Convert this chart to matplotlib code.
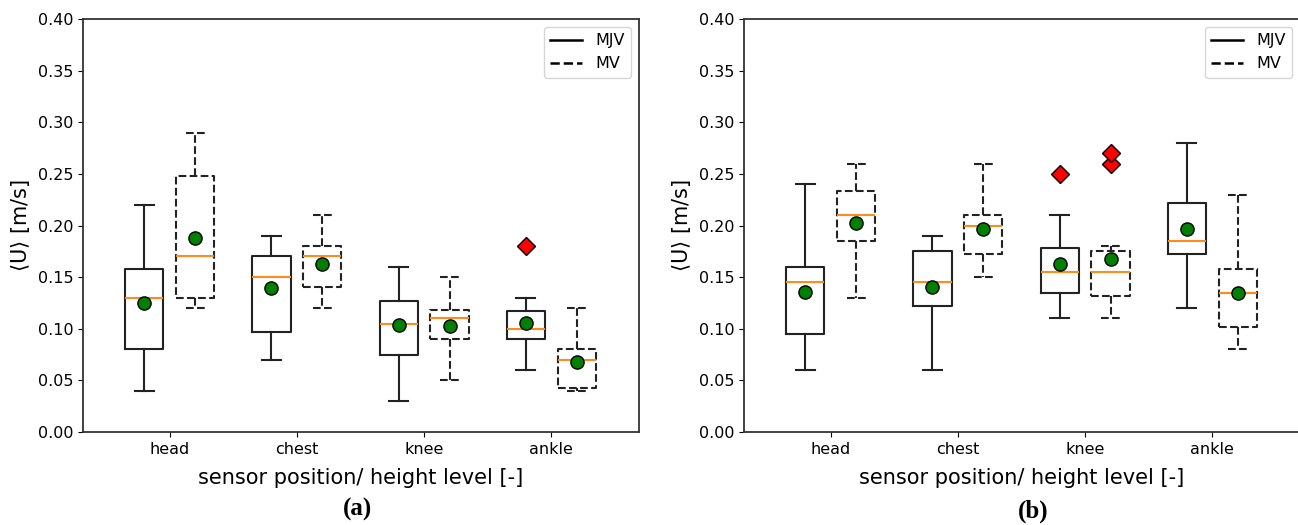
import matplotlib
matplotlib.use('Agg')
import matplotlib.pyplot as plt
from matplotlib.lines import Line2D

positions = ['head', 'chest', 'knee', 'ankle']

# (a) -- whisker low, q1, median, q3, whisker high, mean, outliers
a_mjv_lo = [0.04, 0.07, 0.03, 0.06]
a_mjv_q1 = [0.080, 0.097, 0.075, 0.090]
a_mjv_med = [0.130, 0.150, 0.105, 0.100]
a_mjv_q3 = [0.158, 0.170, 0.127, 0.117]
a_mjv_hi = [0.22, 0.19, 0.16, 0.13]
a_mjv_mean = [0.125, 0.139, 0.104, 0.106]
a_mjv_out = [[], [], [], [0.18]]

a_mv_lo = [0.12, 0.12, 0.05, 0.04]
a_mv_q1 = [0.130, 0.140, 0.090, 0.043]
a_mv_med = [0.170, 0.170, 0.110, 0.070]
a_mv_q3 = [0.248, 0.180, 0.118, 0.080]
a_mv_hi = [0.29, 0.21, 0.15, 0.12]
a_mv_mean = [0.188, 0.163, 0.103, 0.068]
a_mv_out = [[], [], [], []]

# (b)
b_mjv_lo = [0.06, 0.06, 0.11, 0.12]
b_mjv_q1 = [0.095, 0.122, 0.135, 0.172]
b_mjv_med = [0.145, 0.145, 0.155, 0.185]
b_mjv_q3 = [0.160, 0.175, 0.178, 0.222]
b_mjv_hi = [0.24, 0.19, 0.21, 0.28]
b_mjv_mean = [0.136, 0.140, 0.163, 0.197]
b_mjv_out = [[], [], [0.25], []]

b_mv_lo = [0.13, 0.15, 0.11, 0.08]
b_mv_q1 = [0.185, 0.172, 0.132, 0.102]
b_mv_med = [0.210, 0.200, 0.155, 0.135]
b_mv_q3 = [0.233, 0.210, 0.175, 0.158]
b_mv_hi = [0.26, 0.26, 0.18, 0.23]
b_mv_mean = [0.202, 0.197, 0.168, 0.135]
b_mv_out = [[], [], [0.26, 0.27], []]


def make_stats(lo, q1, med, q3, hi, mean, out):
    stats = []
    for i in range(len(lo)):
        stats.append({'whislo': lo[i], 'q1': q1[i], 'med': med[i], 'q3': q3[i],
                      'whishi': hi[i], 'mean': mean[i], 'fliers': out[i]})
    return stats


def draw_group(ax, stats, xs, ls):
    line = dict(color='#222222', linewidth=1.5, linestyle=ls)
    ax.bxp(stats, positions=xs, widths=0.3, showmeans=True,
           boxprops=line, whiskerprops=line, capprops=line,
           medianprops=dict(color='#ff8c1a', linewidth=1.5),
           meanprops=dict(marker='o', markerfacecolor='green',
                          markeredgecolor='black', markersize=9.5),
           flierprops=dict(marker='D', markerfacecolor='red',
                           markeredgecolor='black', markersize=9),
           manage_ticks=False)


def draw_panel(ax, mjv, mv):
    x = [1, 2, 3, 4]
    draw_group(ax, mjv, [p - 0.2 for p in x], '-')
    draw_group(ax, mv, [p + 0.2 for p in x], '--')
    ax.set_xticks(x)
    ax.set_xticklabels(positions, fontsize=11.5)
    ax.set_xlim(0.319, 4.689)
    ax.set_ylim(0, 0.4)
    ax.set_yticks([0.0, 0.05, 0.10, 0.15, 0.20, 0.25, 0.30, 0.35, 0.40])
    ax.set_yticklabels(['%.2f' % v for v in ax.get_yticks()], fontsize=11.5)
    ax.set_ylabel(r'$\langle$U$\rangle$ [m/s]', fontsize=15)
    ax.set_xlabel('sensor position/ height level [-]', fontsize=15, labelpad=8)
    for s in ax.spines.values():
        s.set_color('#333333')
        s.set_linewidth(1.3)
    handles = [Line2D([], [], color='black', linestyle='-', linewidth=1.8),
               Line2D([], [], color='black', linestyle='--', linewidth=1.8)]
    ax.legend(handles, ['MJV', 'MV'], loc='upper right', fontsize=11.5)


fig = plt.figure(figsize=(12.98, 5.25), dpi=100)
ax1 = fig.add_axes([83 / 1298, 93 / 525, 556 / 1298, 413 / 525])
ax2 = fig.add_axes([744 / 1298, 93 / 525, 556 / 1298, 413 / 525])

draw_panel(ax1, make_stats(a_mjv_lo, a_mjv_q1, a_mjv_med, a_mjv_q3, a_mjv_hi, a_mjv_mean, a_mjv_out),
           make_stats(a_mv_lo, a_mv_q1, a_mv_med, a_mv_q3, a_mv_hi, a_mv_mean, a_mv_out))
draw_panel(ax2, make_stats(b_mjv_lo, b_mjv_q1, b_mjv_med, b_mjv_q3, b_mjv_hi, b_mjv_mean, b_mjv_out),
           make_stats(b_mv_lo, b_mv_q1, b_mv_med, b_mv_q3, b_mv_hi, b_mv_mean, b_mv_out))

fig.text(357 / 1298, 1 - 509 / 525, '(a)', ha='center', va='center',
         family='Liberation Serif', weight='bold', fontsize=18)
fig.text(1033 / 1298, 1 - 511 / 525, '(b)', ha='center', va='center',
         family='Liberation Serif', weight='bold', fontsize=18)

fig.savefig('out.png', dpi=100, facecolor='white')
